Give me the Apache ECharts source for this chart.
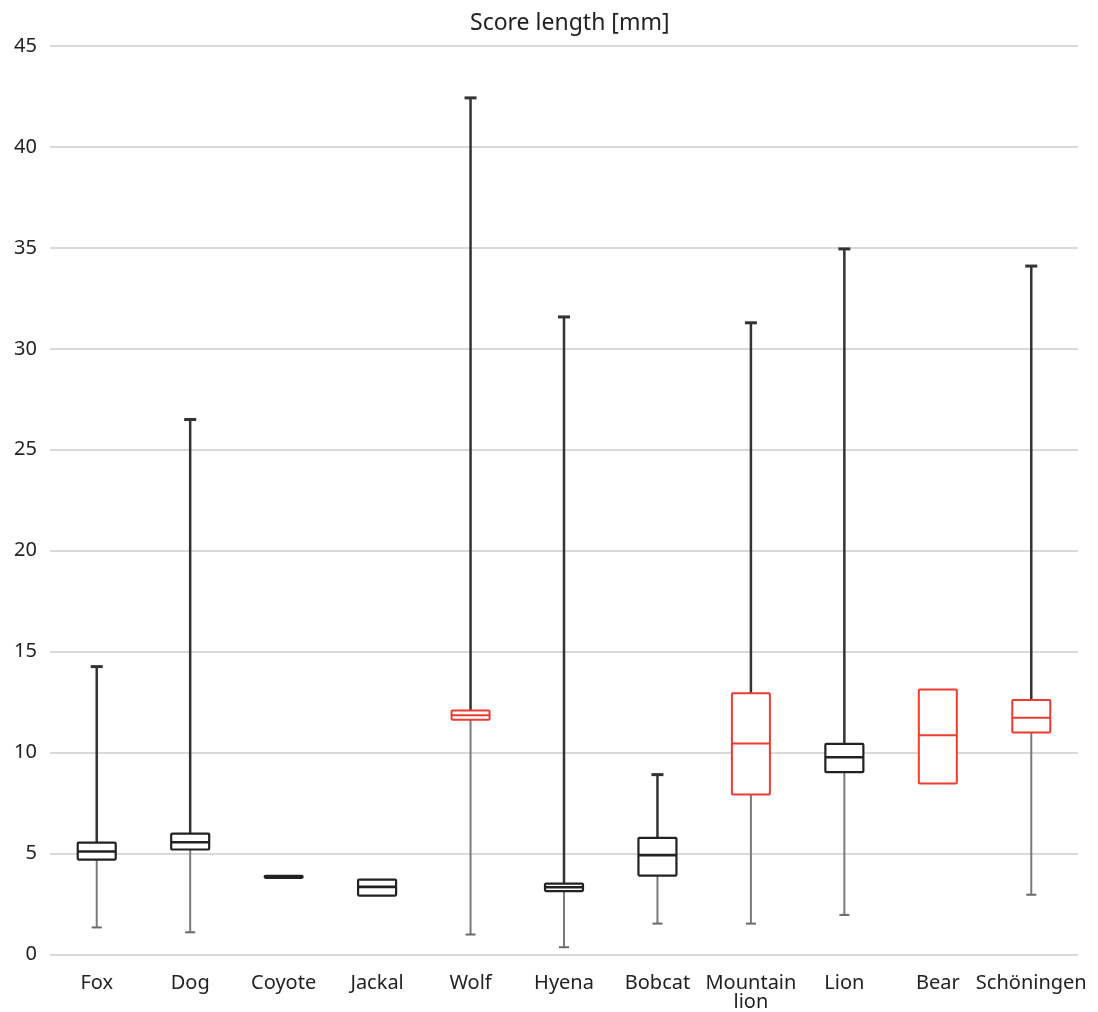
<!DOCTYPE html>
<html>
<head>
<meta charset="utf-8">
<script src="https://cdn.jsdelivr.net/npm/echarts@6/dist/echarts.min.js"></script>
<style>html,body{margin:0;padding:0;background:#fff;}#main{width:1098px;height:1012px;}</style>
</head>
<body>
<div id="main"></div>
<script>
var categories = ['Fox', 'Dog', 'Coyote', 'Jackal', 'Wolf', 'Hyena', 'Bobcat', 'Mountain\nlion', 'Lion', 'Bear', 'Schöningen'];
var minValues    = [1.34, 1.10, 3.80, 2.92, 0.99, 0.36, 1.53, 1.53, 1.96, 8.47, 2.96];
var q1Values     = [4.70, 5.20, 3.80, 2.92, 11.63, 3.14, 3.91, 7.92, 9.03, 8.47, 10.99];
var medianValues = [5.10, 5.56, 3.85, 3.35, 11.85, 3.33, 4.92, 10.45, 9.77, 10.86, 11.73];
var q3Values     = [5.54, 5.99, 3.90, 3.71, 12.08, 3.51, 5.78, 12.94, 10.43, 13.13, 12.60];
var maxValues    = [14.26, 26.50, 3.90, 3.71, 42.43, 31.58, 8.91, 31.29, 34.95, 13.13, 34.10];
var highlighted  = ['Wolf', 'Mountain\nlion', 'Bear', 'Schöningen'];
var yTicks = [0, 5, 10, 15, 20, 25, 30, 35, 40, 45];

var data = categories.map(function (c, i) {
  return [i, minValues[i], q1Values[i], medianValues[i], q3Values[i], maxValues[i]];
});

var chart = echarts.init(document.getElementById('main'), null, {renderer: 'canvas'});
var FONT = '"Noto Sans", "Open Sans", sans-serif';

function renderItem(params, api) {
  var idx = api.value(0);
  var lo = api.value(1), q1 = api.value(2), med = api.value(3), q3 = api.value(4), hi = api.value(5);
  var red = highlighted.indexOf(categories[idx]) >= 0;
  var boxColor = red ? '#ee3b30' : '#222222';
  var pLo = api.coord([idx, lo]), pQ1 = api.coord([idx, q1]), pMed = api.coord([idx, med]);
  var pQ3 = api.coord([idx, q3]), pHi = api.coord([idx, hi]);
  var x = pQ1[0];
  var bw = 38, cw = 10;
  var children = [];
  if (lo < q1) {
    children.push({type: 'line', shape: {x1: x, y1: pQ1[1], x2: x, y2: pLo[1]}, style: {stroke: '#7a7a7a', lineWidth: 2}});
    children.push({type: 'line', shape: {x1: x - cw / 2, y1: pLo[1], x2: x + cw / 2, y2: pLo[1]}, style: {stroke: '#6a6a6a', lineWidth: 2}});
  }
  if (hi > q3) {
    children.push({type: 'line', shape: {x1: x, y1: pQ3[1], x2: x, y2: pHi[1]}, style: {stroke: '#333333', lineWidth: 2.5}});
    children.push({type: 'line', shape: {x1: x - cw / 2 - 1, y1: pHi[1], x2: x + cw / 2 + 1, y2: pHi[1]}, style: {stroke: '#333333', lineWidth: 3}});
  }
  children.push({type: 'rect', shape: {x: x - bw / 2, y: pQ3[1], width: bw, height: pQ1[1] - pQ3[1], r: 1},
    style: {fill: '#ffffff', stroke: boxColor, lineWidth: red ? 2 : 2.2}});
  children.push({type: 'line', shape: {x1: x - bw / 2, y1: pMed[1], x2: x + bw / 2, y2: pMed[1]},
    style: {stroke: boxColor, lineWidth: red ? 2 : 2.6}});
  return {type: 'group', children: children};
}

chart.setOption({
  animation: false,
  title: {
    text: 'Score length [mm]',
    left: 465, top: 7,
    textStyle: {fontFamily: FONT, fontSize: 23, fontWeight: 'normal', color: '#222'}
  },
  grid: {left: 50, right: 20, top: 46, bottom: 57, containLabel: false},
  xAxis: {
    type: 'category',
    data: categories,
    boundaryGap: true,
    axisLine: {show: false},
    axisTick: {show: false},
    axisLabel: {fontFamily: FONT, fontSize: 20, color: '#222', margin: 19, lineHeight: 19, interval: 0}
  },
  yAxis: {
    type: 'value',
    min: yTicks[0], max: yTicks[yTicks.length - 1], interval: 5,
    axisLine: {show: false},
    axisTick: {show: false},
    axisLabel: {fontFamily: FONT, fontSize: 20, color: '#222', margin: 13},
    splitLine: {lineStyle: {color: '#d9d9d9', width: 2}}
  },
  series: [{
    type: 'custom',
    renderItem: renderItem,
    encode: {x: 0, y: [1, 2, 3, 4, 5]},
    data: data,
    z: 5
  }]
});
</script>
</body>
</html>
